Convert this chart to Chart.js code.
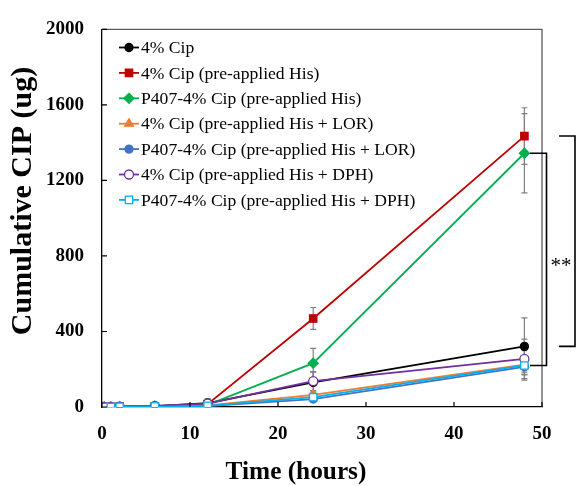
<!DOCTYPE html>
<html>
<head>
<meta charset="utf-8">
<script src="https://cdn.jsdelivr.net/npm/chart.js@4.4.1/dist/chart.umd.min.js"></script>
<style>
  html, body { margin: 0; padding: 0; background: #fff; }
</style>
</head>
<body>
<canvas id="chart" width="579" height="486"></canvas>
<script>
// time points (hours)
const hours = [0.25, 1, 2, 6, 12, 24, 48];

const seriesNames = [
  '4% Cip',
  '4% Cip (pre-applied His)',
  'P407-4% Cip (pre-applied His)',
  '4% Cip (pre-applied His + LOR)',
  'P407-4% Cip (pre-applied His + LOR)',
  '4% Cip (pre-applied His + DPH)',
  'P407-4% Cip (pre-applied His + DPH)',
];

// cumulative CIP (ug) and SD
const cip = [0, 1, 2, 5, 20, 130, 321];
const cipErr = [0, 0, 1, 2, 8, 55, 151];
const cipHis = [0, 1, 2, 4, 15, 469, 1435];
const cipHisErr = [0, 0, 1, 2, 30, 58, 150];
const p407His = [0, 1, 2, 4, 12, 232, 1344];
const p407HisErr = [0, 0, 1, 2, 8, 78, 210];
const cipLor = [0, 0, 1, 3, 8, 64, 225];
const cipLorErr = [0, 0, 1, 1, 4, 20, 40];
const p407Lor = [0, 0, 1, 2, 5, 42, 213];
const p407LorErr = [0, 0, 1, 1, 3, 15, 40];
const cipDph = [0, 1, 2, 6, 18, 137, 255];
const cipDphErr = [0, 0, 1, 2, 6, 50, 105];
const p407Dph = [0, 0, 1, 2, 6, 52, 220];
const p407DphErr = [0, 0, 1, 1, 3, 18, 78];

const xTicks = [0, 10, 20, 30, 40, 50];
const yTicks = [0, 400, 800, 1200, 1600, 2000];

const serif = '"Liberation Serif", "Times New Roman", serif';

const styles = [
  { color: '#000000', fill: '#000000', shape: 'circle', r: 4 },
  { color: '#C00000', fill: '#C00000', shape: 'rect', r: 5.2 },
  { color: '#00B050', fill: '#00B050', shape: 'rectRot', r: 5 },
  { color: '#ED7D31', fill: '#ED7D31', shape: 'triangle', r: 5 },
  { color: '#4472C4', fill: '#4472C4', shape: 'circle', r: 4 },
  { color: '#7030A0', fill: '#ffffff', shape: 'circle', r: 4.5 },
  { color: '#00B0F0', fill: '#ffffff', shape: 'rect', r: 5.2 },
];

const values = [cip, cipHis, p407His, cipLor, p407Lor, cipDph, p407Dph];
const errors = [cipErr, cipHisErr, p407HisErr, cipLorErr, p407LorErr, cipDphErr, p407DphErr];

const datasets = seriesNames.map((name, i) => ({
  label: name,
  data: hours.map((h, j) => ({ x: h, y: values[i][j] })),
  borderColor: styles[i].color,
  backgroundColor: styles[i].fill,
  pointBorderColor: styles[i].color,
  pointBackgroundColor: styles[i].fill,
  pointStyle: styles[i].shape,
  pointRadius: styles[i].r,
  pointBorderWidth: 1.3,
  borderWidth: 1.8,
  tension: 0,
  order: seriesNames.length - i, // later series on top, like the original
}));

// pick a font size so the text spans the given width
function fitFont(ctx, text, weight, width) {
  ctx.font = `${weight} 20px ${serif}`;
  const size = 20 * width / ctx.measureText(text).width;
  return `${weight} ${size.toFixed(1)}px ${serif}`;
}

const chartDecor = {
  id: 'chartDecor',
  beforeDatasetsDraw(chart) {
    const { ctx, chartArea: a, scales: { y } } = chart;
    ctx.save();
    // top / right frame
    ctx.strokeStyle = '#5a5a5a';
    ctx.lineWidth = 1.3;
    ctx.beginPath();
    ctx.moveTo(a.left, a.top);
    ctx.lineTo(a.right, a.top);
    ctx.lineTo(a.right, a.bottom);
    ctx.stroke();
    // error bars
    ctx.strokeStyle = '#808080';
    ctx.lineWidth = 1.2;
    chart.data.datasets.forEach((ds, i) => {
      const meta = chart.getDatasetMeta(i);
      meta.data.forEach((pt, j) => {
        const err = errors[i][j];
        if (!err) return;
        const v = values[i][j];
        const top = y.getPixelForValue(v + err);
        const bot = y.getPixelForValue(Math.max(0, v - err));
        ctx.beginPath();
        ctx.moveTo(pt.x, top);
        ctx.lineTo(pt.x, bot);
        ctx.moveTo(pt.x - 3, top);
        ctx.lineTo(pt.x + 3, top);
        ctx.moveTo(pt.x - 3, bot);
        ctx.lineTo(pt.x + 3, bot);
        ctx.stroke();
      });
    });
    ctx.restore();
  },
  afterDraw(chart) {
    const { ctx, chartArea: a, scales: { x, y } } = chart;
    ctx.save();
    // inward ticks
    ctx.strokeStyle = '#000';
    ctx.lineWidth = 1.2;
    ctx.beginPath();
    xTicks.forEach((t) => {
      const px = x.getPixelForValue(t);
      ctx.moveTo(px, a.bottom);
      ctx.lineTo(px, a.bottom - 5);
    });
    yTicks.forEach((t) => {
      const py = y.getPixelForValue(t);
      ctx.moveTo(a.left, py);
      ctx.lineTo(a.left + 5, py);
    });
    ctx.stroke();

    // legend
    const legendFont = fitFont(ctx, seriesNames[6], '', 274);
    ctx.textBaseline = 'middle';
    seriesNames.forEach((name, i) => {
      const ly = 47.5 + i * 25.4;
      ctx.strokeStyle = styles[i].color;
      ctx.lineWidth = 1.8;
      ctx.beginPath();
      ctx.moveTo(119, ly);
      ctx.lineTo(139, ly);
      ctx.stroke();
      ctx.fillStyle = styles[i].fill;
      ctx.lineWidth = 1.3;
      Chart.helpers.drawPoint(ctx, {
        pointStyle: styles[i].shape,
        radius: styles[i].r,
        borderWidth: 1.3,
      }, 129, ly);
      ctx.font = legendFont;
      ctx.fillStyle = '#000';
      ctx.fillText(name, 141, ly + 1);
    });

    // significance brackets
    ctx.strokeStyle = '#000';
    ctx.lineWidth = 1.6;
    const y1 = y.getPixelForValue(cipHis[6]);
    const y2 = y.getPixelForValue(cip[6]);
    ctx.beginPath();
    ctx.moveTo(559, y1);
    ctx.lineTo(575, y1);
    ctx.lineTo(575, y2);
    ctx.lineTo(559, y2);
    ctx.stroke();
    const y3 = y.getPixelForValue(p407His[6]);
    const y4 = y.getPixelForValue(p407Dph[6]);
    ctx.beginPath();
    ctx.moveTo(530, y3);
    ctx.lineTo(546.5, y3);
    ctx.lineTo(546.5, y4);
    ctx.lineTo(530, y4);
    ctx.stroke();
    ctx.font = '21px ' + serif;
    ctx.textAlign = 'center';
    ctx.fillStyle = '#000';
    ctx.fillText('**', 561, 266);

    // axis titles
    ctx.font = fitFont(ctx, 'Time (hours)', 'bold', 141);
    ctx.fillText('Time (hours)', 296, 472);
    ctx.font = fitFont(ctx, 'Cumulative CIP (ug)', 'bold', 268);
    ctx.translate(23, 201);
    ctx.rotate(-Math.PI / 2);
    ctx.fillText('Cumulative CIP (ug)', 0, 0);
    ctx.restore();
  },
};

new Chart(document.getElementById('chart'), {
  type: 'line',
  data: { datasets },
  options: {
    responsive: false,
    devicePixelRatio: 1,
    animation: false,
    layout: { padding: { top: 23, right: 37, left: 0, bottom: 0 } },
    plugins: {
      legend: { display: false },
      tooltip: { enabled: false },
    },
    scales: {
      x: {
        type: 'linear',
        min: 0,
        max: 50,
        afterBuildTicks: (s) => { s.ticks = xTicks.map((v) => ({ value: v })); },
        afterFit: (s) => { s.height = 79; },
        grid: { display: false, drawTicks: false },
        border: { color: '#000', width: 1.3 },
        ticks: {
          padding: 16,
          color: '#000',
          font: { family: serif, size: 19, weight: 'bold' },
          callback: (v) => String(v),
        },
      },
      y: {
        min: 0,
        max: 2000,
        afterBuildTicks: (s) => { s.ticks = yTicks.map((v) => ({ value: v })); },
        afterFit: (s) => { s.width = 102; },
        grid: { display: false, drawTicks: false },
        border: { color: '#000', width: 1.3 },
        ticks: {
          padding: 18,
          color: '#000',
          font: { family: serif, size: 19, weight: 'bold' },
          callback: (v) => String(v),
        },
      },
    },
  },
  plugins: [chartDecor],
});
</script>
</body>
</html>
